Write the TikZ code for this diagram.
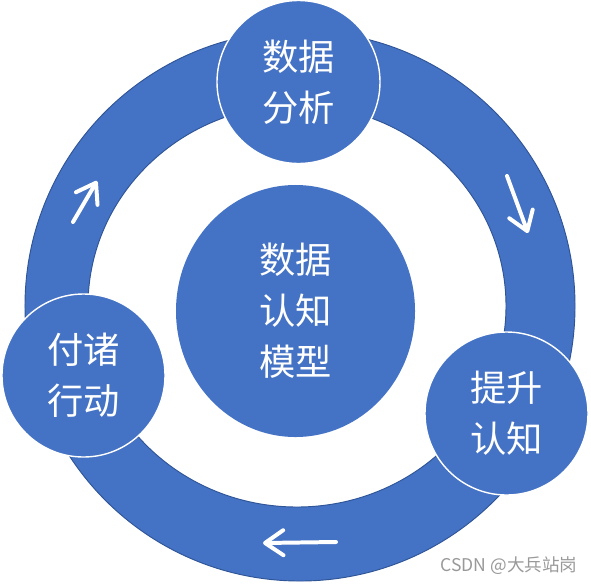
\documentclass[tikz,border=0pt]{standalone}
\usepackage{fontspec}
\setmainfont{Noto Sans CJK SC}
\usetikzlibrary{shapes.geometric,arrows.meta}
\definecolor{pptblue}{HTML}{4472C4}
\definecolor{ringline}{HTML}{2F5597}
\begin{document}
\begin{tikzpicture}[x=0.03cm,y=-0.03cm,
  bub/.style={circle, draw=white, line width=1.2pt, fill=pptblue, text=white, inner sep=0pt, minimum size=4.89cm, align=center, font=\fontsize{31}{43.5}\selectfont},
  flow/.style={white, line width=3.4pt, line cap=round, -{Straight Barb[round,length=5.5mm,width=7.5mm]}}]
\useasboundingbox (0,0) rectangle (591,583);
\draw [ringline, line width=0.8pt, fill=pptblue, even odd rule] (300,306) circle [radius=8.25cm] (297,306) ellipse [x radius=6.27cm, y radius=6.03cm];
\node [ellipse, fill=pptblue, text=white, inner sep=0pt, minimum width=7.17cm, minimum height=7.56cm, align=center, font=\fontsize{31}{43.5}\selectfont] (model) at (295.5,311) {数据\\认知\\模型};
\node [bub] (ana) at (298.5,82) {数据\\分析};
\node [bub] (lift) at (506.5,413.5) {提升\\认知};
\node [bub] (act) at (83.5,375.5) {付诸\\行动};
\coordinate (a1s) at (73,222);  \coordinate (a1e) at (97,181);
\coordinate (a2s) at (507,176); \coordinate (a2e) at (528,233);
\coordinate (a3s) at (336,542); \coordinate (a3e) at (263,543);
\draw [flow] (a1s) -- (a1e);
\draw [flow] (a2s) -- (a2e);
\draw [flow] (a3s) -- (a3e);
\node [text=black!40, font=\fontsize{15}{15}\selectfont, inner sep=0pt] (mark) at (509,566) {CSDN @大兵站岗};
\end{tikzpicture}
\end{document}
